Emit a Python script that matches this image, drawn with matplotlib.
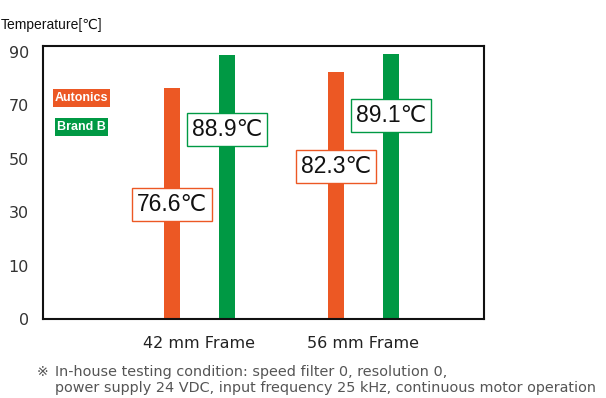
import numpy as np
import matplotlib.pyplot as plt
from matplotlib.path import Path

# Data
frames = ['42 mm Frame', '56 mm Frame']
series = ['Autonics', 'Brand B']
autonics = [76.6, 82.3]
brand_b = [88.9, 89.1]
ytick_values = [0, 10, 30, 50, 70, 90]

colors = {'Autonics': '#EC5824', 'Brand B': '#009944'}

# the axis spaces 0,10,30,50,70,90 evenly
scale_pts = [0, 10, 30, 50, 70, 90, 110]
scale_idx = [0, 1, 2, 3, 4, 5, 6]

def forward(v):
    return np.interp(v, scale_pts, scale_idx)

def inverse(i):
    return np.interp(i, scale_idx, scale_pts)

def padded_box(padx, pady):
    def box(x0, y0, width, height, mutation_size):
        x1, y1 = x0 + width, y0 + height
        verts = [(x0 - padx, y0 - pady), (x1 + padx, y0 - pady),
                 (x1 + padx, y1 + pady), (x0 - padx, y1 + pady),
                 (x0 - padx, y0 - pady)]
        return Path(verts, closed=True)
    return box

sans = ['Liberation Sans', 'DejaVu Sans']

fig = plt.figure(figsize=(6.06, 3.98), dpi=100)
ax = fig.add_axes([43 / 606, 1 - 319 / 398, 441 / 606, 273 / 398])
ax.set_yscale('function', functions=(forward, inverse))

x = np.arange(len(frames))
offset = 0.168
width = 0.098
ax.bar(x - offset, autonics, width, color=colors['Autonics'])
ax.bar(x + offset, brand_b, width, color=colors['Brand B'])

ax.set_xlim(-0.954, 1.735)
ax.set_ylim(0, 92.2)
ax.set_yticks(ytick_values)
ax.set_yticklabels([str(v) for v in ytick_values])
ax.set_xticks(x)
ax.set_xticklabels(frames)
ax.yaxis.set_minor_locator(plt.NullLocator())
ax.tick_params(axis='y', length=0, pad=10, labelsize=11.5, labelcolor='#333333')
ax.tick_params(axis='x', length=0, pad=12, labelsize=11.5, labelcolor='#222222')
for s in ax.spines.values():
    s.set_linewidth(1.5)
    s.set_color('#111111')

# value boxes
label_y = [[33, 47], [61, 66]]
for k, (vals, name) in enumerate([(autonics, 'Autonics'), (brand_b, 'Brand B')]):
    xs = x - offset if k == 0 else x + offset
    for i, v in enumerate(vals):
        ax.text(xs[i], label_y[k][i], f'{v}℃', ha='center', va='center',
                fontsize=16.5, family=sans, color='#111111',
                bbox=dict(boxstyle=padded_box(5, 5), facecolor='white',
                          edgecolor=colors[name], linewidth=1))

# legend as coloured tags
for name, yy in zip(series, [0.8095, 0.705]):
    ax.text(0.0873, yy, name, transform=ax.transAxes, ha='center', va='center',
            fontsize=9, fontweight='bold', family=sans, color='white',
            bbox=dict(boxstyle=padded_box(2, 3), facecolor=colors[name],
                      edgecolor='none'))

fig.text(1 / 606, 1 - 25 / 398, 'Temperature[℃]', ha='left', va='center',
         fontsize=10, family=sans, color='#111111')

fig.text(37 / 606, 1 - 372 / 398, '※', ha='left', va='center', fontsize=10,
         color='#555555')
fig.text(55 / 606, 1 - 372 / 398, 'In-house testing condition: speed filter 0, resolution 0,',
         ha='left', va='center', fontsize=10.4, color='#555555')
fig.text(55 / 606, 1 - 388 / 398,
         'power supply 24 VDC, input frequency 25 kHz, continuous motor operation',
         ha='left', va='center', fontsize=10.4, color='#555555')

fig.savefig('out.png', dpi=100)
